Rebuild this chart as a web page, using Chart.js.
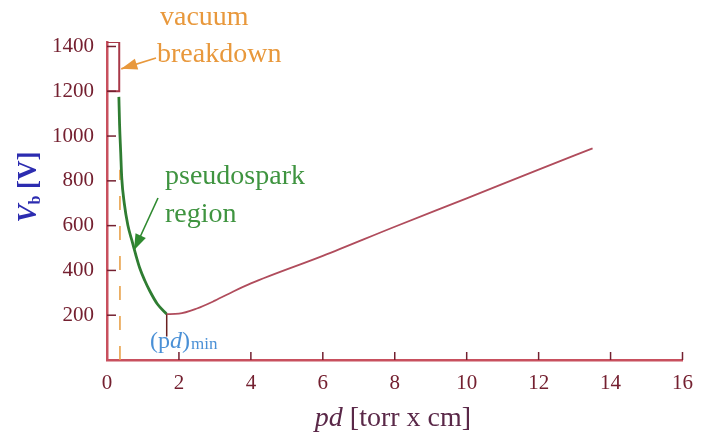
<!DOCTYPE html>
<html>
<head>
<meta charset="utf-8">
<script src="https://cdn.jsdelivr.net/npm/chart.js@4/dist/chart.umd.min.js"></script>
<style>
  html, body { margin: 0; padding: 0; background: #fff; }
  #wrap { width: 704px; height: 440px; }
</style>
</head>
<body>
<div id="wrap"><canvas id="myChart" width="704" height="440"></canvas></div>
<script>
// pseudospark branch (green) of the Paschen curve
const pseudoPd = [0.33, 0.35, 0.38, 0.41, 0.48, 0.58, 0.69, 0.8, 0.91, 1.05, 1.19, 1.4, 1.66];
const pseudoV = [1175, 1050, 930, 813, 700, 602, 535, 470, 411, 355, 308, 250, 205];

// normal Paschen branch (red)
const paschenPd = [1.66, 2, 2.5, 3, 3.5, 4, 6, 8, 10, 12, 13.5];
const paschenV = [205, 207, 230, 265, 305, 342, 465, 595, 722, 850, 945];

// vacuum breakdown box
const boxPd = [0, 0.34];
const boxV = [1200, 1420];

// dashed limit line and (pd)min marker
const limitPd = 0.36;
const limitV = [0, 850];
const minPd = 1.66;
const minV = [105, 205];

const xTicks = [0, 2, 4, 6, 8, 10, 12, 14, 16];
const yTicks = [200, 400, 600, 800, 1000, 1200, 1400];

const serif = "'Liberation Serif', 'DejaVu Serif', serif";
const axisColor = "#c8505e";
const tickColor = "#742030";

function pts(xs, ys) {
  return xs.map((x, i) => ({ x: x, y: ys[i] }));
}

const boxPts = [
  { x: boxPd[0], y: boxV[0] },
  { x: boxPd[1], y: boxV[0] },
  { x: boxPd[1], y: boxV[1] },
  { x: boxPd[0], y: boxV[1] }
];

function arrow(ctx, x1, y1, x2, y2, color) {
  ctx.save();
  ctx.strokeStyle = color;
  ctx.fillStyle = color;
  ctx.lineWidth = 1.6;
  ctx.beginPath();
  ctx.moveTo(x1, y1);
  ctx.lineTo(x2, y2);
  ctx.stroke();
  const a = Math.atan2(y2 - y1, x2 - x1);
  ctx.beginPath();
  ctx.moveTo(x2, y2);
  ctx.lineTo(x2 - 17 * Math.cos(a - 0.34), y2 - 17 * Math.sin(a - 0.34));
  ctx.lineTo(x2 - 17 * Math.cos(a + 0.34), y2 - 17 * Math.sin(a + 0.34));
  ctx.closePath();
  ctx.fill();
  ctx.restore();
}

const extras = {
  id: "extras",
  afterDraw(chart) {
    const ctx = chart.ctx;
    const xs = chart.scales.x;
    const ys = chart.scales.y;
    const X = v => xs.getPixelForValue(v);
    const Y = v => ys.getPixelForValue(v);

    // inner tick marks
    ctx.save();
    ctx.strokeStyle = tickColor;
    ctx.lineWidth = 1.5;
    yTicks.forEach(v => {
      ctx.beginPath();
      ctx.moveTo(X(0), Y(v));
      ctx.lineTo(X(0) + 9, Y(v));
      ctx.stroke();
    });
    xTicks.slice(1).forEach(v => {
      ctx.beginPath();
      ctx.moveTo(X(v), Y(0));
      ctx.lineTo(X(v), Y(0) - 8);
      ctx.stroke();
    });
    ctx.restore();

    // annotations
    ctx.save();
    ctx.textBaseline = "alphabetic";
    ctx.font = "28px " + serif;
    ctx.fillStyle = "#e8983c";
    ctx.fillText("vacuum", 160, 25);
    ctx.fillText("breakdown", 157, 62);
    arrow(ctx, 156, 58, X(0.34) + 2, Y(1300), "#e8983c");

    ctx.fillStyle = "#3f9440";
    ctx.fillText("pseudospark", 165, 184);
    ctx.fillText("region", 165, 222);
    arrow(ctx, 158, 198, X(0.75), Y(490), "#2f8a30");

    ctx.fillStyle = "#4a90d6";
    ctx.font = "24px " + serif;
    ctx.fillText("(p", 150, 348);
    let w = ctx.measureText("(p").width;
    ctx.font = "italic 24px " + serif;
    ctx.fillText("d", 150 + w, 348);
    w += ctx.measureText("d").width;
    ctx.font = "24px " + serif;
    ctx.fillText(")", 150 + w, 348);
    w += ctx.measureText(")").width;
    ctx.font = "17px " + serif;
    ctx.fillText("min", 151 + w, 349);

    // x axis title
    ctx.fillStyle = "#5a2848";
    const t1 = "pd";
    ctx.font = "28px " + serif;
    const t2 = " [torr x cm]";
    const w2 = ctx.measureText(t2).width;
    ctx.font = "italic 28px " + serif;
    const w1 = ctx.measureText(t1).width;
    const sx = 393 - (w1 + w2) / 2;
    ctx.fillText(t1, sx, 426);
    ctx.font = "28px " + serif;
    ctx.fillText(t2, sx + w1, 426);

    // y axis title
    ctx.translate(36, 187);
    ctx.rotate(-Math.PI / 2);
    ctx.fillStyle = "#2c2cb0";
    ctx.font = "italic bold 27px " + serif;
    const vw = ctx.measureText("V").width;
    ctx.font = "bold 16px " + serif;
    const bw = ctx.measureText("b").width;
    ctx.font = "bold 27px " + serif;
    const rw = ctx.measureText(" [V]").width;
    let px = -(vw + bw + rw) / 2;
    ctx.font = "italic bold 27px " + serif;
    ctx.fillText("V", px, 0);
    px += vw;
    ctx.font = "bold 16px " + serif;
    ctx.fillText("b", px, 4);
    px += bw;
    ctx.font = "bold 27px " + serif;
    ctx.fillText(" [V]", px, 0);
    ctx.restore();
  }
};

const myChart = new Chart(document.getElementById("myChart").getContext("2d"), {
  type: "line",
  data: {
    datasets: [
      {
        data: pts(paschenPd, paschenV),
        borderColor: "#b04c5c",
        borderWidth: 1.8,
        cubicInterpolationMode: "monotone",
        pointRadius: 0
      },
      {
        data: pts(pseudoPd, pseudoV),
        borderColor: "#2f7d32",
        borderWidth: 2.8,
        cubicInterpolationMode: "monotone",
        pointRadius: 0
      },
      {
        data: boxPts,
        borderColor: "#a83848",
        borderWidth: 2,
        tension: 0,
        pointRadius: 0
      },
      {
        data: pts([limitPd, limitPd], limitV),
        borderColor: "#e8a048",
        borderWidth: 1.6,
        borderDash: [14, 16],
        pointRadius: 0
      },
      {
        data: pts([minPd, minPd], minV),
        borderColor: "#6a2020",
        borderWidth: 1.5,
        pointRadius: 0
      }
    ]
  },
  options: {
    responsive: false,
    animation: false,
    events: [],
    layout: { padding: { left: 0, right: 18, top: 42, bottom: 0 } },
    plugins: { legend: { display: false }, tooltip: { enabled: false } },
    scales: {
      x: {
        type: "linear",
        min: 0,
        max: 16,
        afterBuildTicks: s => { s.ticks = xTicks.map(v => ({ value: v })); },
        afterFit: s => { s.height = 80; },
        grid: { display: false, drawTicks: false },
        border: { color: axisColor, width: 2.5 },
        ticks: {
          color: tickColor, padding: 11, maxRotation: 0,
          font: { family: serif, size: 21 },
          callback: v => String(v)
        }
      },
      y: {
        type: "linear",
        min: 0,
        max: 1420,
        afterBuildTicks: s => { s.ticks = yTicks.map(v => ({ value: v })); },
        afterFit: s => { s.width = 107; },
        grid: { display: false, drawTicks: false },
        border: { color: axisColor, width: 2.5 },
        ticks: {
          color: tickColor, padding: 13,
          font: { family: serif, size: 21 },
          callback: v => String(v)
        }
      }
    }
  },
  plugins: [extras]
});
</script>
</body>
</html>
